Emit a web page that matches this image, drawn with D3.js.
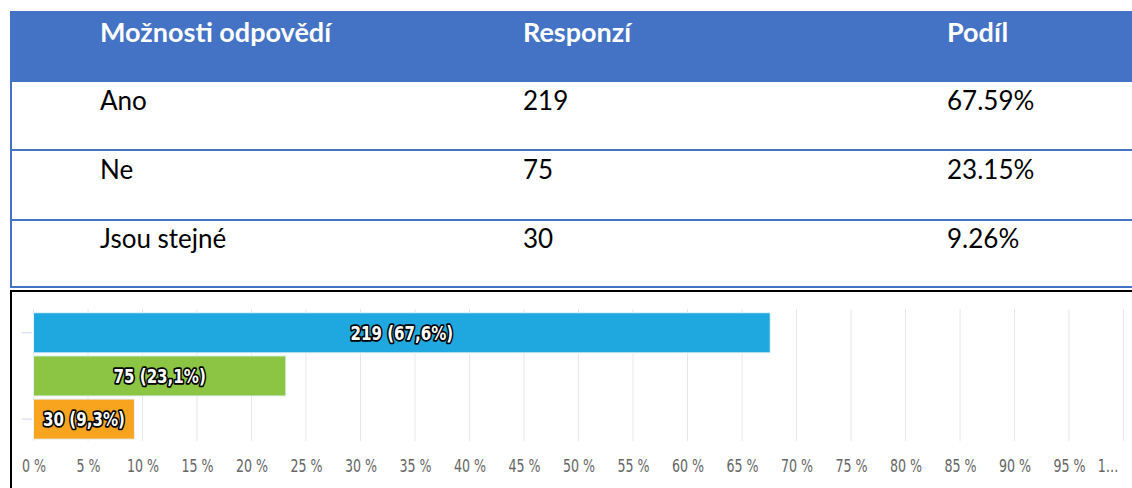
<!DOCTYPE html>
<html>
<head>
<meta charset="utf-8">
<script src="https://cdn.jsdelivr.net/npm/d3@7"></script>
<style>
  html, body { margin: 0; padding: 0; background: #ffffff; }
  svg { display: block; }
</style>
</head>
<body>
<svg id="chart" width="1132" height="488"></svg>
<script>
// ---- data ----
const headers = ["Možnosti odpovědí", "Responzí", "Podíl"];
const categories = ["Ano", "Ne", "Jsou stejné"];
const responses = [219, 75, 30];
const shares = [67.59, 23.15, 9.26];
const barColors = ["#1fa8df", "#8bc543", "#f9a41f"];
const tickValues = [0, 5, 10, 15, 20, 25, 30, 35, 40, 45, 50, 55, 60, 65, 70, 75, 80, 85, 90, 95, 100];
const tickLabels = ["0 %", "5 %", "10 %", "15 %", "20 %", "25 %", "30 %", "35 %", "40 %", "45 %", "50 %", "55 %", "60 %", "65 %", "70 %", "75 %", "80 %", "85 %", "90 %", "95 %", "1…"];

const svg = d3.select("#chart");
const W = 1132;
const blue = "#4472c4";

// ---- table ----
const colX = [100, 523, 947];
const headerTop = 11, headerBottom = 82;
const rowLines = [150, 220, 287];
const rowBaselines = [110, 179, 248];

svg.append("rect").attr("x", 10).attr("y", headerTop).attr("width", W - 10).attr("height", headerBottom - headerTop).attr("fill", blue);
svg.append("line").attr("x1", 11).attr("x2", 11).attr("y1", headerBottom).attr("y2", 288).attr("stroke", blue).attr("stroke-width", 2);
svg.selectAll("line.row").data(rowLines).enter().append("line").attr("class", "row")
  .attr("x1", 10).attr("x2", W).attr("y1", d => d).attr("y2", d => d)
  .attr("stroke", blue).attr("stroke-width", 2);

svg.selectAll("text.head").data(headers).enter().append("text").attr("class", "head")
  .attr("x", (d, i) => colX[i]).attr("y", 42)
  .attr("font-family", "Lato, 'Open Sans', sans-serif").attr("font-weight", "bold")
  .attr("font-size", 27).attr("fill", "#ffffff").text(d => d);

const rows = categories.map((c, i) => [c, String(responses[i]), shares[i].toFixed(2) + "%"]);
rows.forEach((r, ri) => {
  svg.selectAll("text.cell" + ri).data(r).enter().append("text").attr("class", "cell" + ri)
    .attr("x", (d, i) => colX[i]).attr("y", rowBaselines[ri])
    .attr("font-family", "Lato, 'Open Sans', sans-serif")
    .attr("font-size", 26).attr("fill", "#000000").text(d => d);
});

// ---- chart frame ----
svg.append("line").attr("x1", 10).attr("x2", W).attr("y1", 291).attr("y2", 291).attr("stroke", "#000").attr("stroke-width", 2);
svg.append("line").attr("x1", 11).attr("x2", 11).attr("y1", 290).attr("y2", 488).attr("stroke", "#000").attr("stroke-width", 2);

// ---- scales ----
const x = d3.scaleLinear().domain([0, 100]).range([33.5, 1123.5]);
const y = d3.scaleBand().domain(categories).range([311.2, 440.7]).paddingInner(0.07).paddingOuter(0.035);

// gridlines
svg.append("g").selectAll("line").data(tickValues).enter().append("line")
  .attr("x1", d => x(d)).attr("x2", d => x(d)).attr("y1", 309).attr("y2", 441)
  .attr("stroke", "#e6e6e6").attr("stroke-width", 1);

// y ticks (first and last category)
svg.append("g").selectAll("line").data([categories[0], categories[2]]).enter().append("line")
  .attr("x1", 22).attr("x2", 32)
  .attr("y1", d => y(d) + y.bandwidth() / 2).attr("y2", d => y(d) + y.bandwidth() / 2)
  .attr("stroke", "#ccd6eb").attr("stroke-width", 1);

// bars
svg.append("g").selectAll("rect").data(categories).enter().append("rect")
  .attr("x", x(0)).attr("y", d => y(d))
  .attr("width", (d, i) => x(shares[i]) - x(0)).attr("height", y.bandwidth())
  .attr("fill", (d, i) => barColors[i]).attr("stroke", "#e8f4fb").attr("stroke-width", 1);

// bar labels
const fmt = v => v.toFixed(1).replace(".", ",");
svg.append("g").selectAll("g").data(categories).enter().append("g")
  .attr("transform", (d, i) => `translate(${(x(0) + x(shares[i])) / 2},${y(d) + y.bandwidth() / 2})`)
  .append("text")
  .attr("transform", "scale(0.86,1)")
  .attr("text-anchor", "middle").attr("dy", "0.36em")
  .attr("font-family", "'DejaVu Sans Condensed', 'DejaVu Sans', sans-serif").attr("font-weight", "bold")
  .attr("font-size", 19.5)
  .attr("fill", "#ffffff").attr("stroke", "#000000").attr("stroke-width", 3.5)
  .attr("stroke-linejoin", "round").attr("paint-order", "stroke")
  .text((d, i) => `${responses[i]} (${fmt(responses[i] / d3.sum(responses) * 100)}%)`);

// x axis
const xAxis = d3.axisBottom(x).tickValues(tickValues).tickSize(0).tickPadding(0)
  .tickFormat((d, i) => tickLabels[i]);
const gx = svg.append("g").attr("transform", "translate(0,466)").call(xAxis);
gx.select(".domain").remove();
gx.selectAll("text")
  .attr("y", 0).attr("dy", "0.35em")
  .attr("transform", "scale(0.76,1)")
  .attr("font-family", "'DejaVu Sans Condensed', 'DejaVu Sans', sans-serif")
  .attr("font-size", 18.5).attr("fill", "#666666");
// last (truncated) label is pulled inside the plot edge
gx.selectAll("text").filter((d, i, n) => i === n.length - 1)
  .attr("text-anchor", "end").attr("x", -5.5 / 0.76);
</script>
</body>
</html>
